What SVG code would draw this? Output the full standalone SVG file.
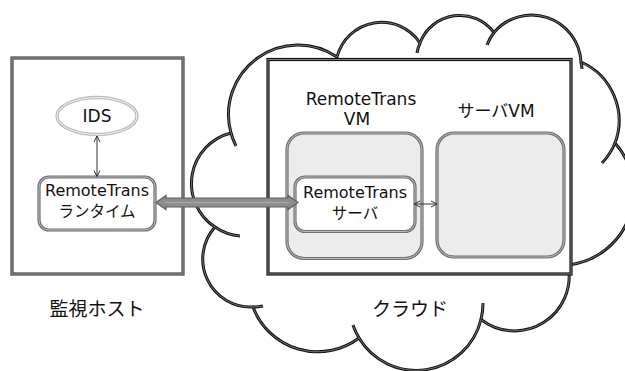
<svg xmlns="http://www.w3.org/2000/svg" xmlns:xlink="http://www.w3.org/1999/xlink" width="625" height="371" viewBox="0 0 625 371">
  <style>
    text { font-family: 'DejaVu Sans', 'Noto Sans CJK JP', sans-serif; fill: #111; text-anchor: middle; }
    .lbl-lg { font-size: 19px; }
    .lbl-md { font-size: 17px; }
    .lbl-sm { font-size: 16px; }
    .jp-sm { font-size: 15.5px; }
    /* compound (double) strokes: a wide dark pass and a thin light pass on top */
    .blk-out { fill: #fff; stroke: #111; stroke-width: 3.2; }
    .blk-in { fill: none; stroke: #8c8c8c; stroke-width: 0.9; }
    .host-out { fill: #fff; stroke: #444; stroke-width: 3.2; }
    .host-in { fill: none; stroke: #a8a8a8; stroke-width: 0.9; }
    .cl-out { fill: #fff; stroke: #111; stroke-width: 3; stroke-linecap: butt; }
    .cl-tail { fill: none; stroke: #111; stroke-width: 3; }
    .cl-in { fill: none; stroke: #8c8c8c; stroke-width: 0.8; }
    .box-out { stroke: #707070; stroke-width: 3.2; }
    .box-in { fill: none; stroke: #c4c4c4; stroke-width: 0.9; }
    .white { fill: #fff; }
    .grey { fill: #ececec; }
    .ell-out { fill: #fff; stroke: #bcbcbc; stroke-width: 3.4; }
    .ell-in { fill: none; stroke: #f2f2f2; stroke-width: 1; }
    .thin { fill: none; stroke: #333; stroke-width: 1; }
    .fat { fill: #8e8e8e; stroke: #5e5e5e; stroke-width: 1.2; stroke-linejoin: miter; }
    .fat-hi { fill: none; stroke: #a9a9a9; stroke-width: 1.2; }
  </style>
  <defs>
    <marker id="head" viewBox="0 0 8 8" refX="7" refY="4" markerWidth="8" markerHeight="8" markerUnits="userSpaceOnUse" orient="auto-start-reverse">
      <path d="M1,1 L7,4 L1,7" fill="none" stroke="#333" stroke-width="1"/>
    </marker>
    <path id="cloud-shape" d="M231,133 A69.5,69.5 0 0 1 337,57 A46,46 0 0 1 420,43 A42.6,42.6 0 0 1 494,32.5 A49.4,49.4 0 0 1 581,62 A64,64 0 0 1 615,143 A73.5,73.5 0 0 1 568,265 A54.7,54.7 0 0 1 481,319.5 A66.7,66.7 0 0 1 359,338 A69,69 0 0 1 253,307 A48,48 0 0 1 215,227 A52,52 0 0 1 231,133 Z"/>
    <path id="cloud-tails" d="M236,146 A69.5,69.5 0 0 1 231,133 M240,236 A52,52 0 0 1 215,227 M263,306 A48,48 0 0 1 253,307 M483,303 A66.7,66.7 0 0 1 481,319.5 M359,338 A66.7,66.7 0 0 1 353,325 M581,62 A49.4,49.4 0 0 1 582,69 M487,45 A49.4,49.4 0 0 1 494,32.5 M417,53 A42.6,42.6 0 0 1 420,43 M615,143 A64,64 0 0 1 602,163"/>
  </defs>

  <!-- cloud outline -->
  <g id="cloud">
    <use xlink:href="#cloud-shape" class="cl-out"/>
    <use xlink:href="#cloud-shape" class="cl-in"/>
    <use xlink:href="#cloud-tails" class="cl-tail"/>
    <use xlink:href="#cloud-tails" class="cl-in"/>
    <text class="lbl-lg" x="410" y="316">クラウド</text>
  </g>

  <!-- frame inside the cloud -->
  <g id="cloud-frame">
    <rect x="268" y="59.5" width="303" height="214.5" class="blk-out"/>
    <rect x="268" y="59.5" width="303" height="214.5" class="blk-in"/>
  </g>

  <!-- RemoteTrans VM -->
  <g id="remotetrans-vm">
    <text class="lbl-md" x="361" y="105">RemoteTrans</text>
    <text class="lbl-md" x="357" y="125">VM</text>
    <rect x="287" y="133" width="135" height="125.5" rx="17" class="grey box-out"/>
    <rect x="287" y="133" width="135" height="125.5" rx="17" class="box-in"/>
  </g>

  <!-- server VM -->
  <g id="server-vm">
    <text class="lbl-md" x="496" y="117">サーバVM</text>
    <rect x="437" y="133" width="127" height="124" rx="17" class="grey box-out"/>
    <rect x="437" y="133" width="127" height="124" rx="17" class="box-in"/>
  </g>

  <!-- RemoteTrans server -->
  <g id="remotetrans-server">
    <rect x="295" y="177" width="120" height="54.5" rx="10" class="white box-out"/>
    <rect x="295" y="177" width="120" height="54.5" rx="10" class="box-in"/>
    <text class="lbl-sm" x="355" y="198">RemoteTrans</text>
    <text class="jp-sm" x="355" y="219">サーバ</text>
  </g>

  <!-- monitoring host -->
  <g id="host">
    <rect x="12" y="58" width="171" height="216" class="host-out"/>
    <rect x="12" y="58" width="171" height="216" class="host-in"/>
    <text class="lbl-lg" x="97" y="316">監視ホスト</text>
  </g>

  <!-- IDS -->
  <g id="ids">
    <ellipse cx="97" cy="116" rx="40" ry="18.5" class="ell-out"/>
    <ellipse cx="97" cy="116" rx="40" ry="18.5" class="ell-in"/>
    <text class="lbl-md" x="97" y="122">IDS</text>
  </g>

  <!-- RemoteTrans runtime -->
  <g id="remotetrans-runtime">
    <rect x="39" y="177" width="116" height="53" rx="10" class="white box-out"/>
    <rect x="39" y="177" width="116" height="53" rx="10" class="box-in"/>
    <text class="lbl-sm" x="97" y="196">RemoteTrans</text>
    <text class="jp-sm" x="97" y="217">ランタイム</text>
  </g>

  <!-- connectors -->
  <g id="connectors">
    <line x1="97" y1="136" x2="97" y2="176.5" class="thin" marker-start="url(#head)" marker-end="url(#head)"/>
    <line x1="414" y1="204" x2="437" y2="204" class="thin" marker-start="url(#head)" marker-end="url(#head)"/>
    <polygon class="fat" points="156,202.5 166,195.5 166,198 288,198 288,195.5 298,202.5 288,209.5 288,207 166,207 166,209.5"/>
    <line x1="165" y1="202.5" x2="289" y2="202.5" class="fat-hi"/>
  </g>
</svg>
